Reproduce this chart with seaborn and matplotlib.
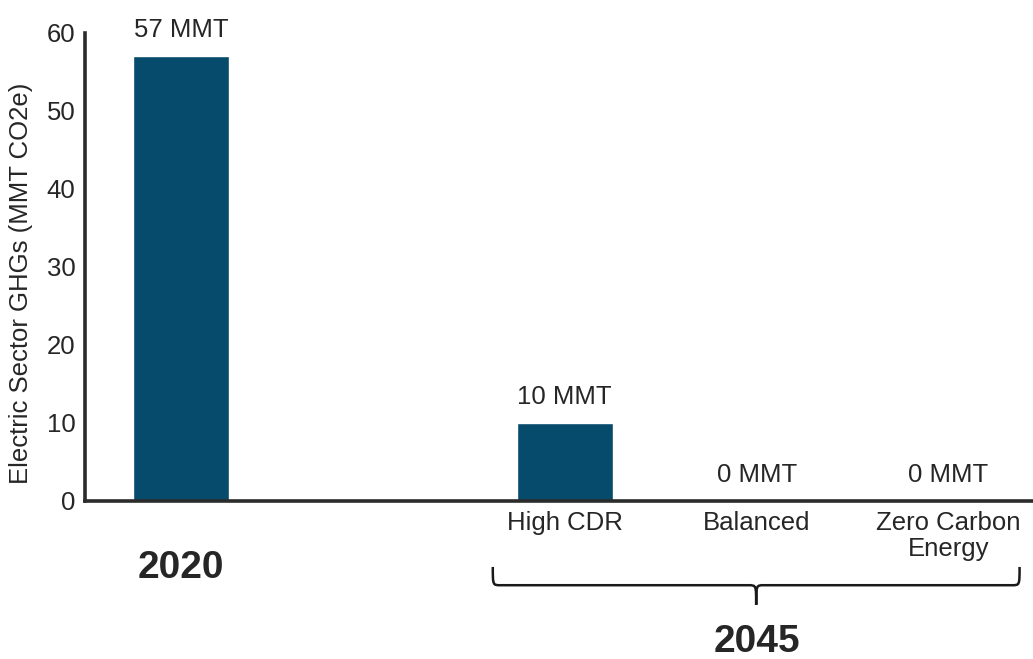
import numpy as np
import pandas as pd
import matplotlib
matplotlib.use("Agg")
import matplotlib.pyplot as plt
from matplotlib.path import Path
from matplotlib.patches import PathPatch
import matplotlib.transforms as mtransforms
import seaborn as sns

# ---- data ----
scenarios = ["2020", "gap", "High CDR", "Balanced", "Zero Carbon Energy"]
plotted = ["2020", "High CDR", "Balanced", "Zero Carbon Energy"]
values = [57, 10, 0, 0]
value_labels = ["57 MMT", "10 MMT", "0 MMT", "0 MMT"]
tick_labels = ["", "", "High CDR", "Balanced", "Zero Carbon\nEnergy"]
yticks = [0, 10, 20, 30, 40, 50, 60]

sns.set_theme(style="white")
plt.rcParams["font.family"] = ["Liberation Sans", "DejaVu Sans"]
TXT = "#262626"
BAR = "#064b6c"
FS = 18.5

fig = plt.figure(figsize=(10.33, 6.59), dpi=100)
ax = fig.add_axes([0.0823, 0.2398, 0.9177, 0.7102])

df = pd.DataFrame({"scenario": plotted, "value": values})
sns.barplot(data=df, x="scenario", y="value", order=scenarios, color=BAR,
            width=0.5, saturation=1, ax=ax)

ax.set_xlim(-0.5, 4.44)
ax.set_ylim(0, 60)
ax.set_yticks(yticks)
ax.set_xticks(range(len(scenarios)))
ax.set_xticklabels(tick_labels, fontsize=FS, color=TXT, linespacing=1.1)
ax.tick_params(axis="y", labelsize=FS, labelcolor=TXT, length=0, pad=7)
ax.tick_params(axis="x", length=0, pad=7)
ax.set_xlabel("")
ax.set_ylabel("Electric Sector GHGs (MMT CO2e)", fontsize=FS, color=TXT)
ax.yaxis.set_label_coords(-0.055, 0.464)

for s in ["top", "right"]:
    ax.spines[s].set_visible(False)
for s in ["left", "bottom"]:
    ax.spines[s].set_color("#2b2b2b")
    ax.spines[s].set_linewidth(2.6)

for name, v, lab in zip(plotted, values, value_labels):
    xi = scenarios.index(name)
    ax.annotate(lab, xy=(xi, v), xytext=(0, 10), textcoords="offset points",
                ha="center", va="bottom", fontsize=FS, color=TXT,
                annotation_clip=False)

trans = mtransforms.blended_transform_factory(ax.transData, ax.transAxes)
ax.text(0, -0.105, "2020", transform=trans, ha="center", va="top",
        fontsize=28, fontweight="bold", color=TXT)
ax.text(3, -0.262, "2045", transform=trans, ha="center", va="top",
        fontsize=28, fontweight="bold", color=TXT)

# curly brace under 2045 scenarios
x0, x1 = 1.625, 4.37
xm = (x0 + x1) / 2
yt, yb, ytip = -0.141, -0.180, -0.222
c = 0.04
verts = [
    (x0, yt), (x0, yb), (x0, yb), (x0 + c, yb),
    (xm - c, yb),
    (xm, yb), (xm, yb), (xm, ytip),
    (xm, yb), (xm, yb), (xm + c, yb),
    (x1 - c, yb),
    (x1, yb), (x1, yb), (x1, yt),
]
codes = [Path.MOVETO, Path.CURVE4, Path.CURVE4, Path.CURVE4,
         Path.LINETO,
         Path.CURVE4, Path.CURVE4, Path.CURVE4,
         Path.CURVE4, Path.CURVE4, Path.CURVE4,
         Path.LINETO,
         Path.CURVE4, Path.CURVE4, Path.CURVE4]
brace = PathPatch(Path(verts, codes), transform=trans, fill=False,
                  edgecolor="#1a1a1a", linewidth=1.8, clip_on=False)
ax.add_patch(brace)

fig.savefig("out.png", dpi=100)
